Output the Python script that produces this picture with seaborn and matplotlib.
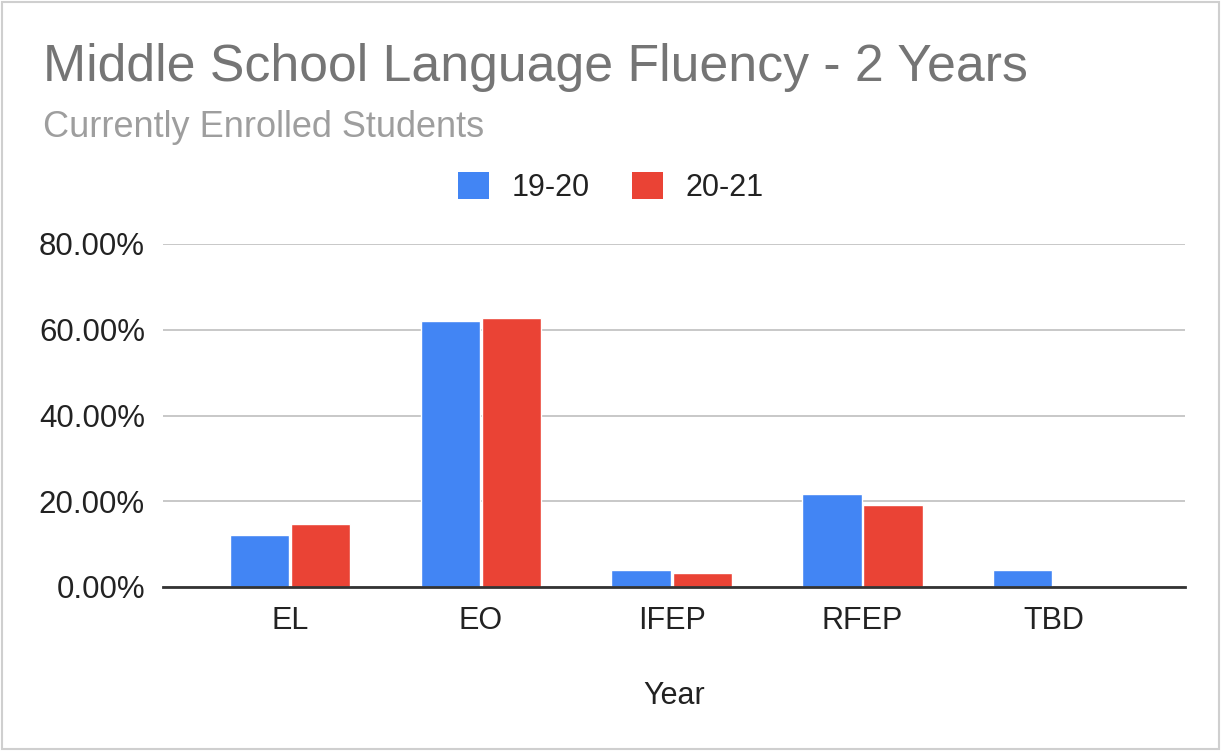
import matplotlib
matplotlib.use("Agg")
import matplotlib.pyplot as plt
import pandas as pd
import seaborn as sns
from matplotlib.patches import Patch, Rectangle

# ── Data ──
categories = ["EL", "EO", "IFEP", "RFEP", "TBD"]
share_19_20 = [12.2, 62.0, 3.9, 21.6, 3.9]
share_20_21 = [14.7, 62.7, 3.3, 19.1, 0.0]
periods = ["19-20", "20-21"]
ytick_values = [0, 20, 40, 60, 80]
ytick_labels = [f"{v:.2f}%" for v in ytick_values]

palette = {"19-20": "#4285F4", "20-21": "#EA4335"}

df = pd.DataFrame({
    "fluency": categories * 2,
    "share": share_19_20 + share_20_21,
    "period": [periods[0]] * len(categories) + [periods[1]] * len(categories),
})

sns.set_theme(style="white")
plt.rcParams["font.family"] = ["Liberation Sans", "DejaVu Sans"]

W, H = 1221, 751
fig = plt.figure(figsize=(W / 100, H / 100), dpi=100)
ax = fig.add_axes([163 / W, 1 - 587 / H, (1185 - 163) / W, (587 - 244) / H])

sns.barplot(
    data=df, x="fluency", y="share", hue="period", palette=palette,
    width=0.64, gap=0.03, saturation=1, legend=False, ax=ax,
)

ax.set_xlim(-0.665, 4.69)
ax.set_ylim(0, 80)
ax.set_yticks(ytick_values)
ax.set_yticklabels(ytick_labels)
ax.yaxis.grid(True, color="#c8c8c8", linewidth=1.4)
ax.set_axisbelow(True)
for side in ["top", "right", "left"]:
    ax.spines[side].set_visible(False)
ax.spines["bottom"].set_color("#333333")
ax.spines["bottom"].set_linewidth(2)
ax.spines["bottom"].set_zorder(5)
ax.tick_params(axis="y", length=0, pad=13, labelsize=22.5, labelcolor="#222222")
ax.tick_params(axis="x", length=0, pad=14, labelsize=22, labelcolor="#222222")
ax.set_ylabel("")
ax.set_xlabel("Year", fontsize=22, color="#222222", labelpad=32)

# titles
fig.text(43 / W, 1 - 81 / H, "Middle School Language Fluency - 2 Years",
         fontsize=37.3, color="#757575", va="baseline", ha="left")
fig.text(43 / W, 1 - 137 / H, "Currently Enrolled Students",
         fontsize=26, color="#9e9e9e", va="baseline", ha="left")

# legend centred on the figure
handles = [Patch(facecolor=palette[p], edgecolor="none", label=p) for p in periods]
fig.legend(
    handles=handles, loc="center", bbox_to_anchor=(611 / W, 1 - 187.5 / H),
    ncol=2, frameon=False, fontsize=22, handlelength=1.0, handleheight=1.0,
    handletextpad=0.75, columnspacing=1.4, labelcolor="#222222",
)

# card border
fig.add_artist(Rectangle((2 / W, 2 / H), 1 - 4 / W, 1 - 4 / H, transform=fig.transFigure,
                         fill=False, edgecolor="#cfcfcf", linewidth=1.5))

fig.savefig("out.png", dpi=100)
